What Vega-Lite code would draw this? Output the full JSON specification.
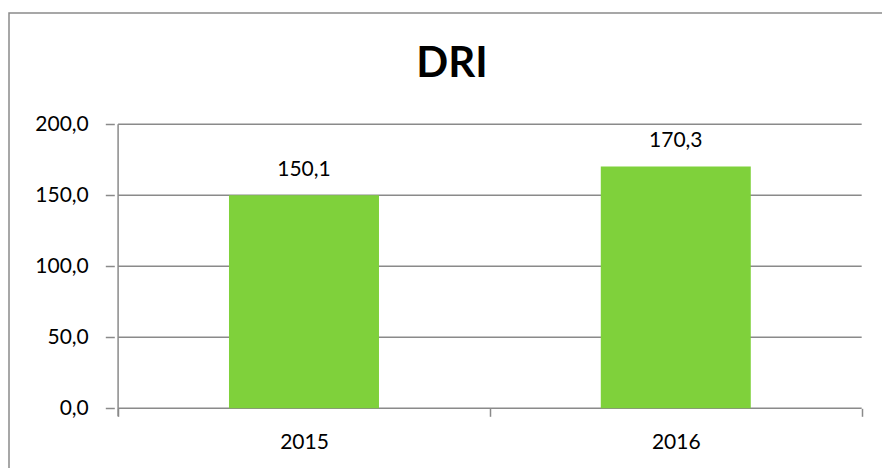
{
  "$schema": "https://vega.github.io/schema/vega-lite/v6.json",
  "width": 874,
  "height": 457,
  "padding": {"left": 9, "top": 13, "right": 0, "bottom": 0},
  "autosize": {"type": "none"},
  "background": "white",
  "config": {
    "locale": {"number": {"decimal": ",", "thousands": ".", "grouping": [3], "currency": ["", " €"]}},
    "view": {"stroke": "#8a8a8a", "strokeWidth": 1.5},
    "font": "Lato"
  },
  "title": {
    "text": "DRI",
    "font": "Lato",
    "fontSize": 42,
    "fontWeight": "bold",
    "color": "#000000",
    "anchor": "middle",
    "frame": "group",
    "offset": -73,
    "dx": 6
  },
  "datasets": {
    "bars": [
      {"year": 2015, "value": 150.1},
      {"year": 2016, "value": 170.3}
    ],
    "grid": [
      {"tick": 0}, {"tick": 50}, {"tick": 100}, {"tick": 150}, {"tick": 200}
    ]
  },
  "layer": [
    {
      "data": {"name": "grid"},
      "mark": {"type": "rule", "color": "#8a8a8a", "strokeWidth": 1.5},
      "encoding": {
        "y": {"field": "tick", "type": "quantitative",
              "scale": {"domain": [-43.45, 278.38], "nice": false, "zero": false},
              "axis": {
                "orient": "left", "offset": -105.3, "title": null, "domain": false, "grid": false,
                "values": [0, 50, 100, 150, 200], "format": ".1f",
                "tickSize": 9, "tickColor": "#8a8a8a", "tickWidth": 1.5,
                "labelPadding": 17, "labelFont": "Lato", "labelFontSize": 21, "labelColor": "#000000"
              }},
        "x": {"datum": 2014.5, "type": "quantitative",
              "scale": {"domain": [2014.22003, 2016.5439], "nice": false, "zero": false},
              "axis": {
                "orient": "bottom", "offset": -61.7, "title": null, "domain": false, "grid": false,
                "values": [2014.5, 2015, 2015.5, 2016, 2016.5],
                "labelExpr": "datum.value % 1 === 0 ? '' + datum.value : ''",
                "tickSize": 8, "tickColor": "#8a8a8a", "tickWidth": 1.5,
                "tickOpacity": {"condition": {"test": "datum.value % 1 !== 0", "value": 1}, "value": 0},
                "labelPadding": 15, "labelFont": "Lato", "labelFontSize": 21, "labelColor": "#000000"
              }},
        "x2": {"datum": 2016.5}
      }
    },
    {
      "data": {"values": [{}]},
      "mark": {"type": "rule", "color": "#8a8a8a", "strokeWidth": 1.5},
      "encoding": {
        "x": {"datum": 2014.5, "type": "quantitative"},
        "y": {"datum": -5.6, "type": "quantitative"},
        "y2": {"datum": 200}
      }
    },
    {
      "data": {"name": "bars"},
      "mark": {"type": "bar", "color": "#7fd13b", "size": 150},
      "encoding": {
        "x": {"field": "year", "type": "quantitative"},
        "y": {"field": "value", "type": "quantitative"}
      }
    },
    {
      "data": {"name": "bars"},
      "mark": {"type": "text", "font": "Lato", "fontSize": 21, "color": "#000000", "baseline": "middle", "dy": -25},
      "encoding": {
        "x": {"field": "year", "type": "quantitative"},
        "y": {"field": "value", "type": "quantitative"},
        "text": {"field": "value", "type": "quantitative", "format": ".1f"}
      }
    }
  ]
}
